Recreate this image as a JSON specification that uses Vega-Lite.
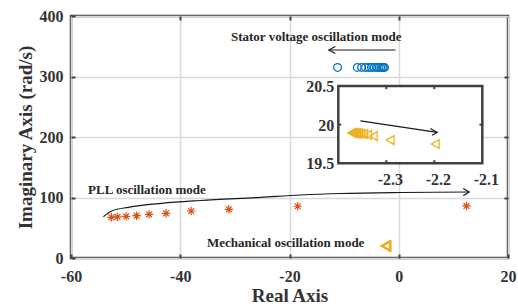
{
  "$schema": "https://vega.github.io/schema/vega-lite/v6.json",
  "width": 437,
  "height": 242,
  "autosize": "none",
  "padding": {"left": 71, "top": 16, "right": 10, "bottom": 49},
  "background": "white",
  "config": {
    "view": {"stroke": "#404040", "strokeWidth": 2.5},
    "font": "Liberation Serif",
    "axis": {
      "labelFont": "Liberation Serif", "titleFont": "Liberation Serif",
      "labelFontWeight": "bold", "titleFontWeight": "bold",
      "labelFontSize": 16, "titleFontSize": 19,
      "labelColor": "#333333", "titleColor": "#333333",
      "domain": false,
      "gridColor": "#d9d9d9", "gridWidth": 1.5, "gridOpacity": 1,
      "tickColor": "#404040", "tickWidth": 2, "tickSize": -4,
      "labelFlush": false, "labelOverlap": false
    }
  },
  "datasets": {
    "circles": [
      {"x": -11.2, "y": 315}, {"x": -7.6, "y": 315}, {"x": -6.8, "y": 315},
      {"x": -6.1, "y": 315}, {"x": -5.5, "y": 315}, {"x": -5.0, "y": 315},
      {"x": -4.5, "y": 315}, {"x": -4.0, "y": 315}, {"x": -3.6, "y": 315},
      {"x": -3.3, "y": 315}, {"x": -3.0, "y": 315}, {"x": -2.8, "y": 315},
      {"x": -2.6, "y": 315}
    ],
    "stars": [
      {"x": -52.6, "y": 67.3}, {"x": -51.5, "y": 67.9}, {"x": -49.9, "y": 68.9},
      {"x": -48.0, "y": 69.9}, {"x": -45.7, "y": 72.2}, {"x": -42.6, "y": 73.9},
      {"x": -38.0, "y": 77.7}, {"x": -31.1, "y": 80.5}, {"x": -18.5, "y": 85.5},
      {"x": 12.4, "y": 86.0}
    ],
    "tris": [
      {"x": -2.372, "y": 19.893}, {"x": -2.370, "y": 19.892}, {"x": -2.368, "y": 19.891},
      {"x": -2.365, "y": 19.890}, {"x": -2.362, "y": 19.888}, {"x": -2.358, "y": 19.886},
      {"x": -2.353, "y": 19.882}, {"x": -2.347, "y": 19.877}, {"x": -2.339, "y": 19.868},
      {"x": -2.327, "y": 19.852}, {"x": -2.292, "y": 19.800}, {"x": -2.198, "y": 19.750}
    ],
    "pllCurve": [
      {"x": -54.07, "y": 68.3}, {"x": -52.53, "y": 77.7}, {"x": -49.49, "y": 83.8},
      {"x": -43.36, "y": 90.4}, {"x": -36.33, "y": 95.0}, {"x": -25.32, "y": 100.2},
      {"x": -17.98, "y": 104.1}, {"x": -10.64, "y": 106.6}, {"x": 0.37, "y": 108.3},
      {"x": 12.9, "y": 109.1}
    ],
    "arrowLines": [
      {"id": "pllHead", "i": 0, "x": 11.8, "y": 115},
      {"id": "pllHead", "i": 1, "x": 12.9, "y": 109.1},
      {"id": "pllHead", "i": 2, "x": 11.8, "y": 103},
      {"id": "statorShaft", "i": 0, "x": -0.6, "y": 343.8},
      {"id": "statorShaft", "i": 1, "x": -12.8, "y": 343.8},
      {"id": "statorHead", "i": 0, "x": -11.6, "y": 349.5},
      {"id": "statorHead", "i": 1, "x": -12.8, "y": 343.8},
      {"id": "statorHead", "i": 2, "x": -11.6, "y": 338.0}
    ],
    "notes": [
      {"x": -15.1, "y": 365, "text": "Stator voltage oscillation mode"},
      {"x": -46.1, "y": 112.4, "text": "PLL oscillation mode"},
      {"x": -20.7, "y": 24.8, "text": "Mechanical oscillation mode"}
    ],
    "insetFrame": [{"x": -2.4, "x2": -2.1, "y": 19.5, "y2": 20.5}],
    "insetTicks": [
      {"x": -2.3, "x2": -2.3, "y": 20.5, "y2": 20.46},
      {"x": -2.2, "x2": -2.2, "y": 20.5, "y2": 20.46},
      {"x": -2.3, "x2": -2.3, "y": 19.5, "y2": 19.54},
      {"x": -2.2, "x2": -2.2, "y": 19.5, "y2": 19.54},
      {"x": -2.4, "x2": -2.394, "y": 20, "y2": 20},
      {"x": -2.1, "x2": -2.106, "y": 20, "y2": 20}
    ],
    "insetArrow": [
      {"id": "shaft", "i": 0, "x": -2.354, "y": 20.049},
      {"id": "shaft", "i": 1, "x": -2.194, "y": 19.899},
      {"id": "head", "i": 0, "x": -2.208, "y": 19.951},
      {"id": "head", "i": 1, "x": -2.194, "y": 19.899},
      {"id": "head", "i": 2, "x": -2.205, "y": 19.864}
    ],
    "insetYLabels": [
      {"x": -2.4, "y": 20.5, "text": "20.5"},
      {"x": -2.4, "y": 20.0, "text": "20"},
      {"x": -2.4, "y": 19.5, "text": "19.5"}
    ],
    "insetXLabels": [
      {"x": -2.3, "y": 19.5, "text": "-2.3"},
      {"x": -2.2, "y": 19.5, "text": "-2.2"},
      {"x": -2.1, "y": 19.5, "text": "-2.1"}
    ]
  },
  "layer": [
    {
      "encoding": {
        "x": {"field": "x", "type": "quantitative",
              "scale": {"domain": [-60, 20], "nice": false, "zero": false}, "axis": null},
        "y": {"field": "y", "type": "quantitative",
              "scale": {"domain": [0, 400], "nice": false, "zero": false}, "axis": null}
      },
      "layer": [
        {"data": {"name": "pllCurve"},
         "mark": {"type": "line", "interpolate": "monotone", "color": "#1a1a1a", "strokeWidth": 1.2},
         "encoding": {}},
        {"data": {"name": "arrowLines"},
         "mark": {"type": "line", "color": "#1a1a1a", "strokeWidth": 1.2},
         "encoding": {"detail": {"field": "id"}, "order": {"field": "i", "type": "quantitative"}}},
        {"data": {"name": "circles"},
         "mark": {"type": "point", "shape": "circle", "filled": false, "color": "#0072BD", "size": 60, "strokeWidth": 1.2, "opacity": 1},
         "encoding": {
           "x": {"field": "x", "type": "quantitative",
                 "scale": {"domain": [-60, 20], "nice": false, "zero": false},
                 "axis": {"title": "Real Axis", "orient": "bottom", "values": [-60, -40, -20, 0, 20], "grid": true, "labelPadding": 14, "titlePadding": 2, "labelExpr": "'' + datum.value"}},
           "y": {"field": "y", "type": "quantitative",
                 "scale": {"domain": [0, 400], "nice": false, "zero": false},
                 "axis": {"title": "Imaginary Axis (rad/s)", "orient": "left", "values": [0, 100, 200, 300, 400], "grid": true, "labelPadding": 12, "titlePadding": 4, "labelExpr": "'' + datum.value"}}
         }},
        {"data": {"name": "stars"},
         "mark": {"type": "point", "shape": "M0,-1L0,1M-1,0L1,0M-0.7,-0.7L0.7,0.7M-0.7,0.7L0.7,-0.7", "filled": false, "color": "#D95319", "size": 70, "strokeWidth": 1.2, "opacity": 1},
         "encoding": {
           "x": {"field": "x", "type": "quantitative",
                 "scale": {"domain": [-60, 20], "nice": false, "zero": false},
                 "axis": {"title": null, "orient": "top", "values": [-40, -20, 0], "grid": false, "labels": false}},
           "y": {"field": "y", "type": "quantitative",
                 "scale": {"domain": [0, 400], "nice": false, "zero": false},
                 "axis": {"title": null, "orient": "right", "values": [100, 200, 300], "grid": false, "labels": false}}
         }},
        {"data": {"name": "tris"},
         "mark": {"type": "point", "shape": "triangle-left", "filled": false, "color": "#EDB120", "size": 90, "strokeWidth": 1.5, "opacity": 1},
         "encoding": {}},
        {"data": {"name": "notes"},
         "mark": {"type": "text", "font": "Liberation Serif", "fontWeight": "bold", "fontSize": 13, "color": "#262626", "align": "center", "baseline": "middle"},
         "encoding": {"text": {"field": "text"}}}
      ],
      "resolve": {"axis": {"x": "independent", "y": "independent"}}
    },
    {
      "encoding": {
        "x": {"field": "x", "type": "quantitative",
              "scale": {"domain": [-2.9569, -2.0465], "nice": false, "zero": false}, "axis": null},
        "y": {"field": "y", "type": "quantitative",
              "scale": {"domain": [18.2749, 21.4056], "nice": false, "zero": false}, "axis": null}
      },
      "layer": [
        {"data": {"name": "insetFrame"},
         "mark": {"type": "rect", "fill": "white", "stroke": "#404040", "strokeWidth": 2.5},
         "encoding": {"x2": {"field": "x2"}, "y2": {"field": "y2"}}},
        {"data": {"name": "insetTicks"},
         "mark": {"type": "rule", "color": "#404040", "strokeWidth": 2},
         "encoding": {"x2": {"field": "x2"}, "y2": {"field": "y2"}}},
        {"data": {"name": "tris"},
         "mark": {"type": "point", "shape": "triangle-left", "filled": false, "color": "#EDB120", "size": 80, "strokeWidth": 1.3, "opacity": 1},
         "encoding": {}},
        {"data": {"name": "insetArrow"},
         "mark": {"type": "line", "color": "#1a1a1a", "strokeWidth": 1.2},
         "encoding": {"detail": {"field": "id"}, "order": {"field": "i", "type": "quantitative"}}},
        {"data": {"name": "insetYLabels"},
         "mark": {"type": "text", "font": "Liberation Serif", "fontWeight": "bold", "fontSize": 16, "color": "#333333", "align": "right", "baseline": "middle", "dx": -4, "dy": 1},
         "encoding": {"text": {"field": "text"}}},
        {"data": {"name": "insetXLabels"},
         "mark": {"type": "text", "font": "Liberation Serif", "fontWeight": "bold", "fontSize": 16, "color": "#333333", "align": "center", "baseline": "middle", "dx": 4, "dy": 17},
         "encoding": {"text": {"field": "text"}}}
      ]
    }
  ],
  "resolve": {"scale": {"x": "independent", "y": "independent"}}
}
